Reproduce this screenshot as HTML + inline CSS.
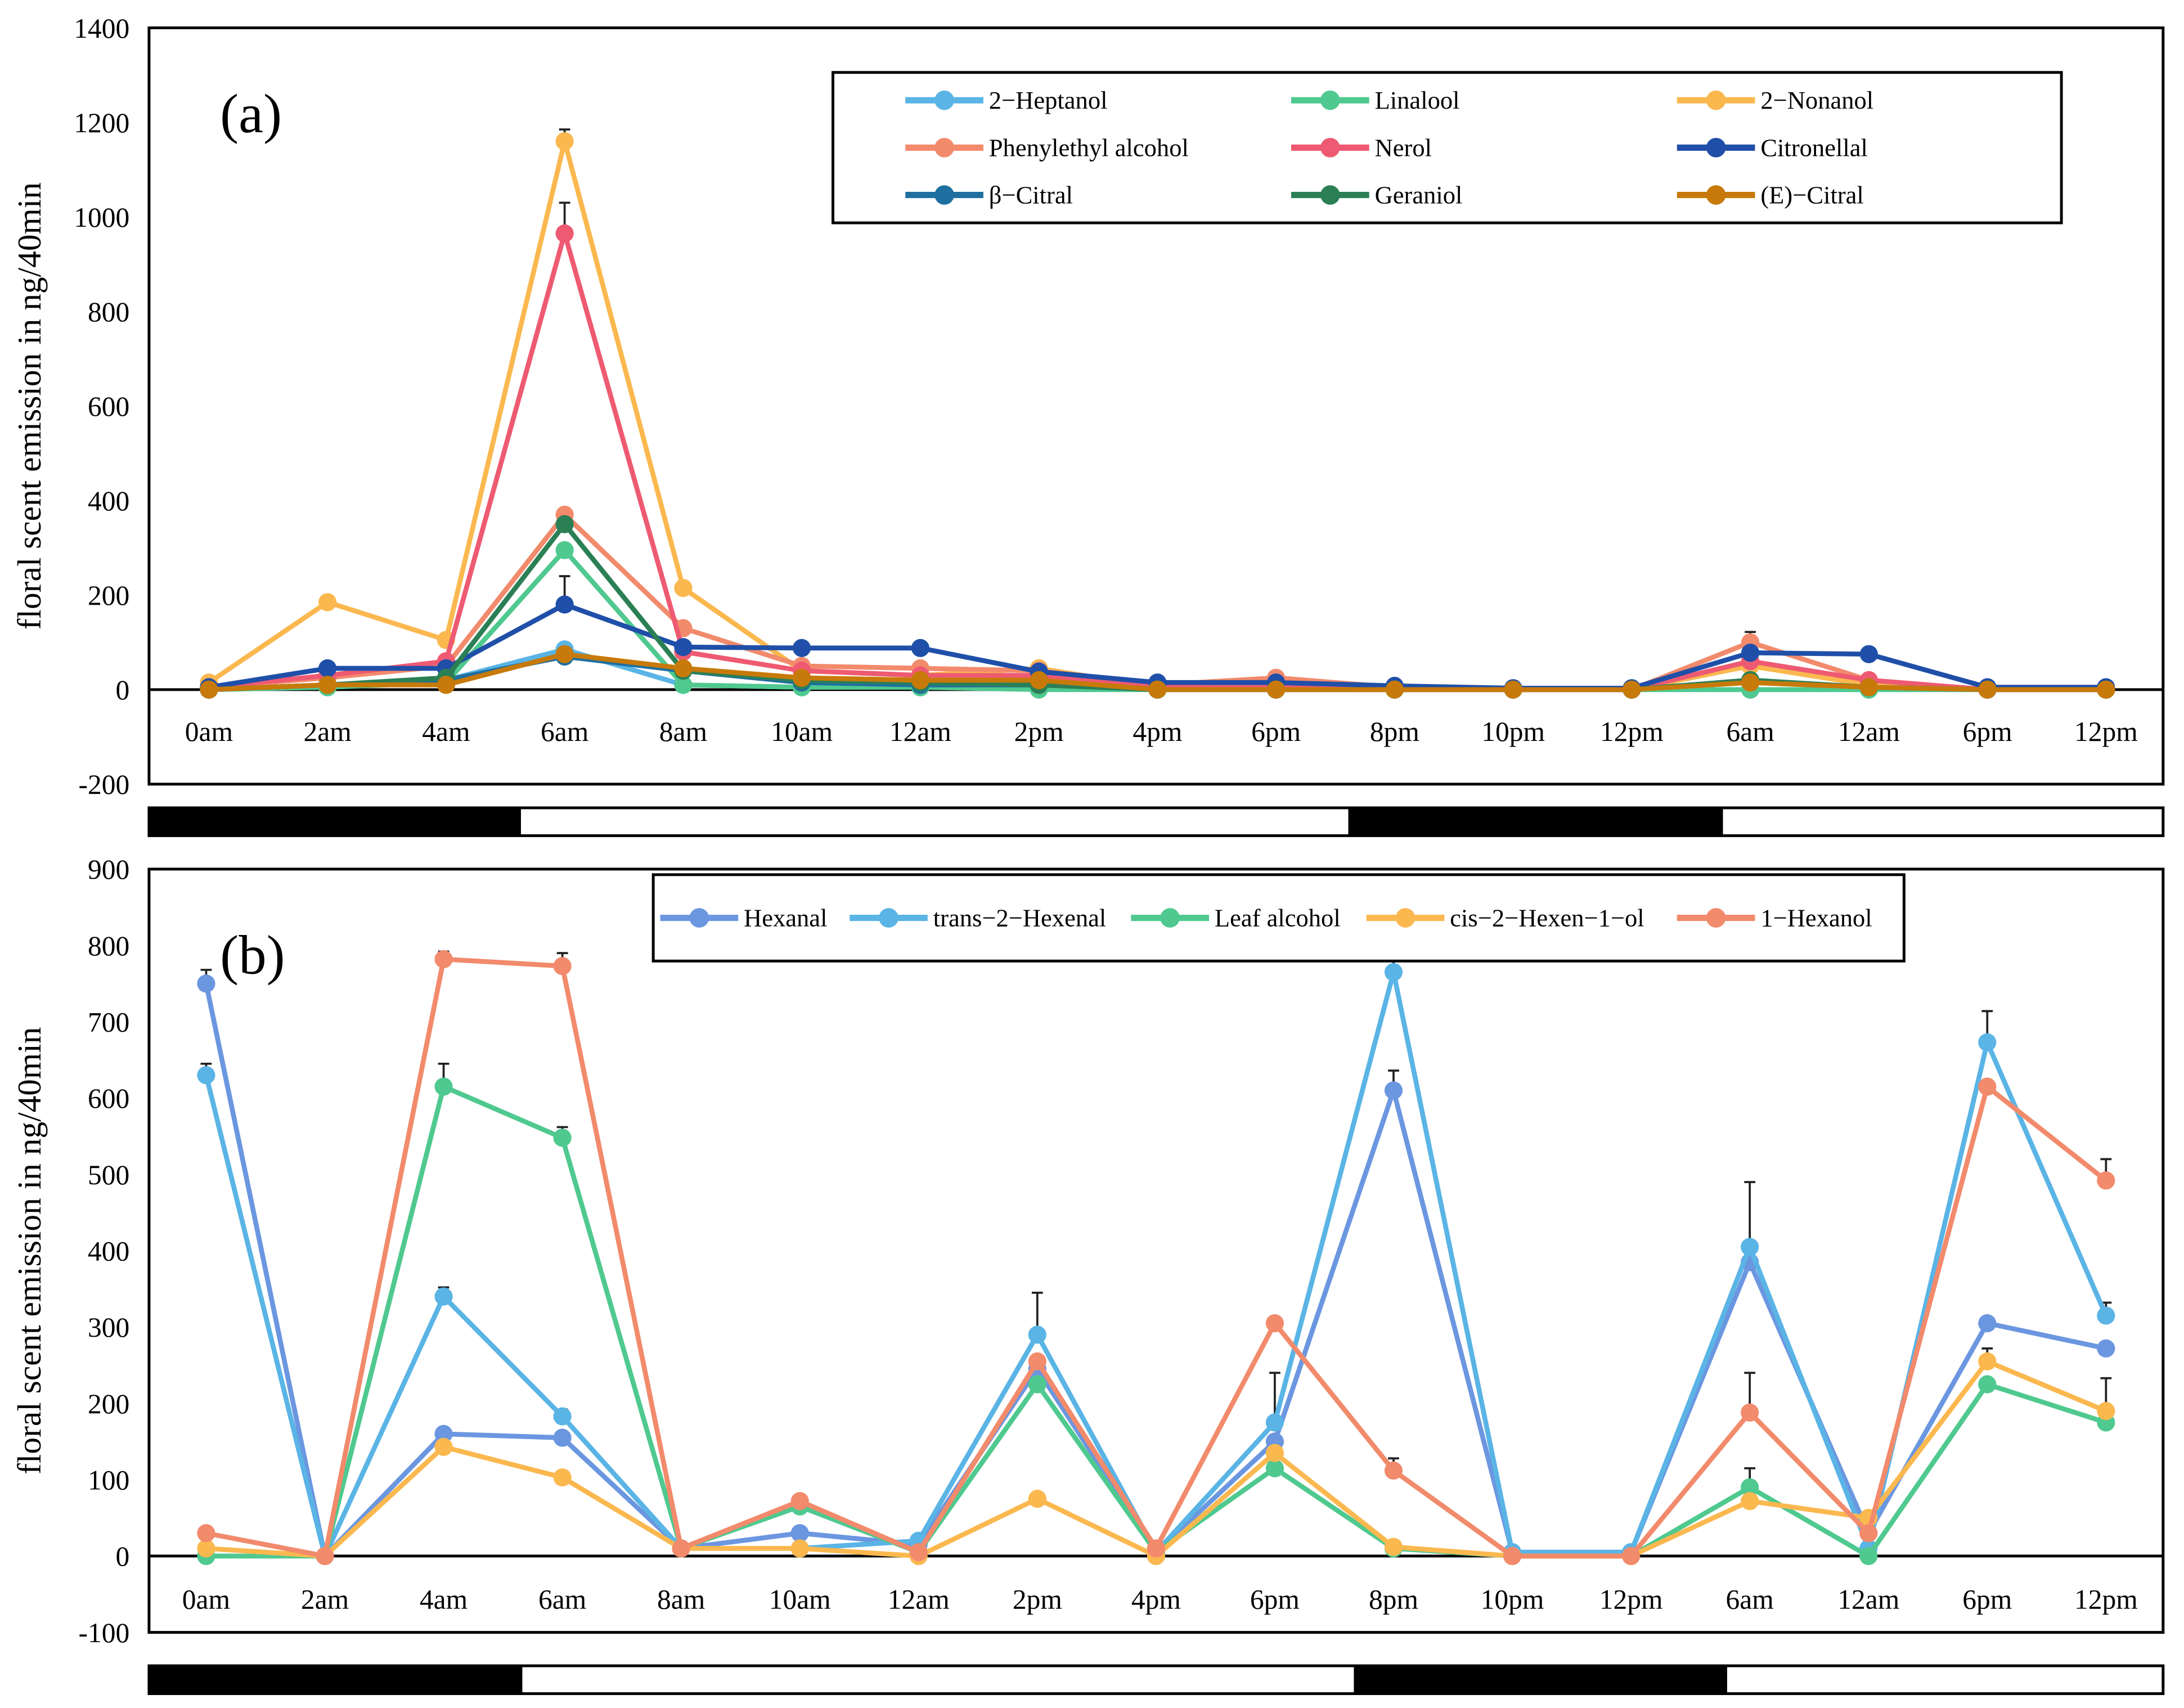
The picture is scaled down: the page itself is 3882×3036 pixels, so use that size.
<!DOCTYPE html>
<html><head><meta charset="utf-8"><style>
html,body{margin:0;padding:0;background:#fff}
svg{display:block}
text{font-family:"Liberation Serif","DejaVu Serif",serif;fill:#000}
</style></head><body>
<svg id="chart" width="3882" height="3036" viewBox="0 0 1568 1226.3" xmlns="http://www.w3.org/2000/svg" font-family="Liberation Serif, DejaVu Serif, serif"></svg>
<script>
const categories=["0am","2am","4am","6am","8am","10am","12am","2pm","4pm","6pm","8pm","10pm","12pm","6am","12am","6pm","12pm"];
const aNames=["2\u2212Heptanol","Linalool","2\u2212Nonanol","Phenylethyl alcohol","Nerol","Citronellal","\u03b2\u2212Citral","Geraniol","(E)\u2212Citral"];
const aColors=["#5ab4e5","#4fc98f","#fbb84f","#f28a6c","#ee5a72","#1f4fa8","#1f6fa0","#2b7f55","#c77a0a"];
const heptanol=[0,10,20,85,10,5,5,5,0,0,0,0,0,0,0,0,0];
const linalool=[0,5,15,295,10,5,5,0,0,0,0,0,0,0,0,0,0];
const nonanol=[15,185,105,1160,215,40,30,45,5,5,5,0,0,50,10,0,0];
const phenylethyl=[5,25,50,370,130,50,45,40,10,25,5,0,0,100,20,0,0];
const nerol=[5,30,60,965,80,40,30,30,5,5,5,0,0,60,20,0,0];
const citronellal=[5,45,45,180,90,88,88,38,15,15,8,3,3,78,75,5,5];
const bCitral=[0,10,20,70,40,15,10,10,0,0,0,0,0,20,5,0,0];
const geraniol=[0,10,25,350,40,20,15,10,0,0,0,0,0,20,5,0,0];
const eCitral=[0,10,10,75,45,25,20,20,0,0,0,0,0,15,5,0,0];
const aErr=[[2,3,1185],[4,3,1030],[5,3,240],[3,3,380],[3,13,122],[5,14,88]];
const aTicks=[1400,1200,1000,800,600,400,200,0,-200];
const bNames=["Hexanal","trans\u22122\u2212Hexenal","Leaf alcohol","cis\u22122\u2212Hexen\u22121\u2212ol","1\u2212Hexanol"];
const bColors=["#6b96e0","#5ab4e5","#4fc98f","#fbb84f","#f28a6c"];
const hexanal=[750,0,160,155,10,30,15,245,5,150,610,5,5,385,30,305,272];
const hexenal=[630,0,340,183,10,10,20,290,5,175,765,5,5,405,10,673,315];
const leafAlcohol=[0,0,615,548,10,65,5,225,5,115,10,0,0,90,0,225,175];
const hexenol=[10,0,143,103,10,10,0,75,0,135,12,0,0,72,50,255,190];
const hexanol=[30,0,782,773,10,72,5,255,10,305,112,0,0,188,30,615,492];
const bErr=[[0,0,768],[1,0,645],[4,2,792],[2,2,645],[1,2,352],[4,3,790],[2,3,562],[1,3,192],[1,7,345],[1,9,240],[1,10,808],[0,10,636],[4,10,128],[1,13,490],[4,13,240],[2,13,115],[1,15,714],[3,15,272],[4,16,520],[1,16,332],[3,16,233]];
const bTicks=[900,800,700,600,500,400,300,200,100,0,-100];

const NS="http://www.w3.org/2000/svg";
const FF="Liberation Serif, DejaVu Serif, serif";
const svg=document.getElementById('chart');
function el(tag,attrs,parent,txt){const e=document.createElementNS(NS,tag);for(const k in attrs)e.setAttribute(k,attrs[k]);if(txt!==undefined){e.textContent=txt;e.setAttribute('font-family',FF);}(parent||svg).appendChild(e);return e;}

function panel(cfg){
  const g=el('g',{});
  
  
  const y=v=>cfg.y0+(cfg.vmax-v)/(cfg.vmax-cfg.vmin)*(cfg.y1-cfg.y0);
  const x=i=>cfg.xs+i*(cfg.xe-cfg.xs)/(categories.length-1);
  const box=el('rect',{x:107,y:cfg.y0,width:1446,height:cfg.y1-cfg.y0,fill:'none',stroke:'#000','stroke-width':2},g);
  
  
  const zl=el('line',{x1:107,x2:1553,y1:y(0),y2:y(0),stroke:'#000','stroke-width':2},g);
  
  
  cfg.ticks.forEach(t=>{const tx=el('text',{x:93,y:y(t)+7,'text-anchor':'end','font-size':20},g,String(t));
    
    });
  categories.forEach((c,i)=>{const tx=el('text',{x:x(i),y:cfg.xly,'text-anchor':'middle','font-size':20},g,c);
    
    });
  const yc=(cfg.y0+cfg.y1)/2;
  const yt=el('text',{x:29,y:yc,'text-anchor':'middle','font-size':24,transform:`rotate(-90 29 ${yc})`},g,'floral scent emission in ng/40min');
  
  
  const pl=el('text',{x:158,y:cfg.y0+75,'font-size':40},g,cfg.label);
  
  
  cfg.err.forEach(e=>{const [s,i,top]=e;const v=cfg.series[s][i];
    const eb=el('path',{d:`M${x(i)} ${y(v)} V${y(top)} M${x(i)-4} ${y(top)} H${x(i)+4}`,stroke:'#222','stroke-width':1.5,fill:'none'},g);
    
    });
  cfg.series.forEach((s,k)=>{
    const sg=el('g',{},g);
    
    
    el('polyline',{points:s.map((v,i)=>x(i)+','+y(v)).join(' '),fill:'none',stroke:cfg.colors[k],'stroke-width':3.5,'stroke-linejoin':'round'},sg);
    s.forEach((v,i)=>{const c=el('circle',{cx:x(i),cy:y(v),r:6.5,fill:cfg.colors[k]},sg);
      
      });
  });
  const bar=el('g',{},g);
  
  
  el('rect',{x:107,y:cfg.by,width:1446,height:20,fill:'#fff',stroke:'#000','stroke-width':2},bar);
  cfg.dark.forEach(d=>el('rect',{x:d[0],y:cfg.by,width:d[1]-d[0],height:20,fill:'#000'},bar));
  const lg=el('g',{},g);
  
  
  el('rect',{x:cfg.lb[0],y:cfg.lb[1],width:cfg.lb[2],height:cfg.lb[3],fill:'#fff',stroke:'#000','stroke-width':2},lg);
  cfg.names.forEach((n,k)=>{const [lx,ly]=cfg.lpos(k);
    const e=el('g',{},lg);
    
    
    el('line',{x1:lx,x2:lx+56,y1:ly,y2:ly,stroke:cfg.colors[k],'stroke-width':4.5},e);
    el('circle',{cx:lx+28,cy:ly,r:7,fill:cfg.colors[k]},e);
    el('text',{x:lx+60,y:ly+6,'font-size':18},e,n);});
}
panel({name:'panel-a',label:'(a)',y0:20,y1:563,vmax:1400,vmin:-200,xs:150,xe:1512,xly:532,ticks:aTicks,
  series:[heptanol,linalool,nonanol,phenylethyl,nerol,citronellal,bCitral,geraniol,eCitral],names:aNames,colors:aColors,err:aErr,
  by:580,dark:[[107,374],[968,1237]],lb:[598,52,882,108],lpos:k=>[650+(k%3)*277,72+Math.floor(k/3)*34]});
panel({name:'panel-b',label:'(b)',y0:624,y1:1172,vmax:900,vmin:-100,xs:148,xe:1512,xly:1155,ticks:bTicks,
  series:[hexanal,hexenal,leafAlcohol,hexenol,hexanol],names:bNames,colors:bColors,err:bErr,
  by:1196,dark:[[107,375],[972,1240]],lb:[469,628,898,62],lpos:k=>[[474,610,812,981,1204][k],659]});
</script>
</body></html>
